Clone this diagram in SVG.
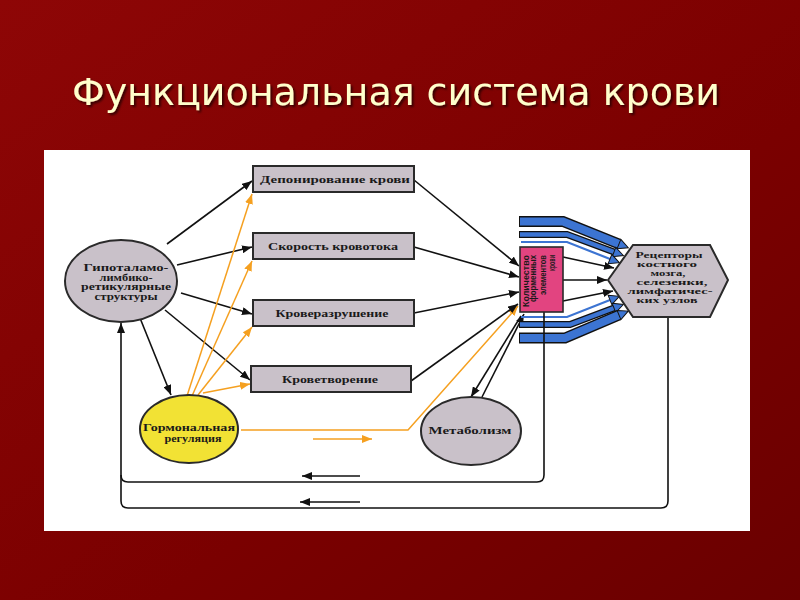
<svg xmlns="http://www.w3.org/2000/svg" width="800" height="600" viewBox="0 0 800 600">
<defs>
<linearGradient id="bg" x1="0" y1="0" x2="1" y2="1">
<stop offset="0" stop-color="#8e0606"/>
<stop offset="0.6" stop-color="#7a0000"/>
<stop offset="1" stop-color="#6a0000"/>
</linearGradient>
<filter id="shadow" x="-5%" y="-20%" width="110%" height="150%">
<feDropShadow dx="2" dy="2" stdDeviation="0.8" flood-color="#000" flood-opacity="0.6"/>
</filter>
<marker id="ah" viewBox="0 0 10 8" refX="10" refY="4" markerWidth="10" markerHeight="8" markerUnits="userSpaceOnUse" orient="auto">
<path d="M0,0 L10,4 L0,8 z" fill="#111"/>
</marker>
<marker id="oh" viewBox="0 0 10 8" refX="10" refY="4" markerWidth="10" markerHeight="8" markerUnits="userSpaceOnUse" orient="auto">
<path d="M0,0 L10,4 L0,8 z" fill="#f5a020"/>
</marker>
<marker id="bh" viewBox="0 0 12 12" refX="1" refY="6" markerWidth="12" markerHeight="12" markerUnits="userSpaceOnUse" orient="auto">
<path d="M1,1 L11,6 L1,11 z" fill="#3c74d2" stroke="#111" stroke-width="1"/>
</marker>
</defs>
<style>
.gray{fill:#c9c1c9;stroke:#2a2a2a;stroke-width:2}
.lbl{font-family:"Liberation Serif","DejaVu Serif",serif;font-weight:bold;font-size:11px;fill:#1a1a1a;text-anchor:middle}
.sm{font-size:9.5px}
.xs{font-size:8.5px}
.md{font-size:10px}
.vt{font-family:"Liberation Sans","DejaVu Sans",sans-serif;font-weight:bold;font-size:9px;fill:#1a1a1a;text-anchor:end}
.blk{fill:none;stroke:#111;stroke-width:1.6}
.org{fill:none;stroke:#f5a020;stroke-width:1.5}
.bout{fill:none;stroke:#111;stroke-linejoin:miter}
.bin{fill:none;stroke:#3c74d2;stroke-linejoin:miter}
</style>
<rect width="800" height="600" fill="url(#bg)"/>
<text id="title" x="396" y="105" fill="#ffffcc" filter="url(#shadow)" font-family="'DejaVu Sans','Noto Sans',sans-serif" font-size="38" text-anchor="middle">Функциональная система крови</text>
<rect id="panel" x="44" y="150" width="706" height="381" fill="#ffffff"/>

<g id="connectors">
<line class="blk" x1="167" y1="244" x2="252" y2="181" marker-end="url(#ah)"/>
<line class="blk" x1="177" y1="265" x2="252" y2="247" marker-end="url(#ah)"/>
<line class="blk" x1="181" y1="293" x2="252" y2="314" marker-end="url(#ah)"/>
<line class="blk" x1="165" y1="310" x2="250" y2="380" marker-end="url(#ah)"/>
<line class="blk" x1="140" y1="318" x2="171" y2="395" marker-end="url(#ah)"/>
<line class="org" x1="187" y1="396" x2="252" y2="194" marker-end="url(#oh)"/>
<line class="org" x1="192" y1="396" x2="252" y2="261" marker-end="url(#oh)"/>
<line class="org" x1="198" y1="395" x2="252" y2="327" marker-end="url(#oh)"/>
<line class="org" x1="203" y1="393" x2="250" y2="384" marker-end="url(#oh)"/>
<polyline class="org" points="241,430 408,430 518,306" marker-end="url(#oh)"/>
<line class="org" x1="313" y1="439" x2="372" y2="439" stroke-width="2" marker-end="url(#oh)"/>
<line class="blk" x1="414" y1="180" x2="519" y2="266" marker-end="url(#ah)"/>
<line class="blk" x1="414" y1="247" x2="519" y2="277" marker-end="url(#ah)"/>
<line class="blk" x1="414" y1="313" x2="519" y2="292" marker-end="url(#ah)"/>
<line class="blk" x1="411" y1="381" x2="518" y2="304" marker-end="url(#ah)"/>
<line class="blk" x1="521" y1="316" x2="471" y2="397" marker-end="url(#ah)"/>
<line class="blk" x1="482" y1="397" x2="524" y2="314" marker-end="url(#ah)"/>
<line class="blk" x1="563" y1="257" x2="614" y2="268" marker-end="url(#ah)"/>
<line class="blk" x1="563" y1="280" x2="607" y2="280" marker-end="url(#ah)"/>
<line class="blk" x1="563" y1="301" x2="613" y2="291" marker-end="url(#ah)"/>
<polyline class="bout" stroke-width="11" points="519,221.5 563,221.5 619,244"/>
<polyline class="bin" stroke-width="8" points="520,221.5 563,221.5 619,244" marker-end="url(#bh)"/>
<polyline class="bout" stroke-width="7" points="519,234.5 567,234.5 614,252"/>
<polyline class="bin" stroke-width="4.5" points="520,234.5 567,234.5 614,252" marker-end="url(#bh)"/>
<polyline class="bin" stroke-width="2.2" points="521,242 567,242 610,259" marker-end="url(#bh)"/>
<polyline class="bin" stroke-width="2.2" points="521,317 567,317 610,300" marker-end="url(#bh)"/>
<polyline class="bout" stroke-width="7" points="519,324.5 570,324.5 614,308"/>
<polyline class="bin" stroke-width="4.5" points="520,324.5 570,324.5 614,308" marker-end="url(#bh)"/>
<polyline class="bout" stroke-width="11" points="519,338 565,338 619,315"/>
<polyline class="bin" stroke-width="8" points="520,338 565,338 619,315" marker-end="url(#bh)"/>
<path class="blk" d="M544,312 V475 Q544,482 537,482 H128 Q121,482 121,475"/>
<path class="blk" d="M668,317 V501 Q668,508 661,508 H128 Q121,508 121,501 V323" marker-end="url(#ah)"/>
<line class="blk" x1="360" y1="476" x2="302" y2="476" marker-end="url(#ah)"/>
<line class="blk" x1="360" y1="502" x2="300" y2="502" marker-end="url(#ah)"/>
</g>

<g id="hypothalamus">
<ellipse class="gray" cx="121" cy="281" rx="56" ry="41"/>
<text class="lbl sm" x="126" y="271" textLength="85" lengthAdjust="spacingAndGlyphs">Гипоталамо-</text>
<text class="lbl sm" x="126" y="280.5" textLength="53" lengthAdjust="spacingAndGlyphs">лимбико-</text>
<text class="lbl sm" x="126" y="290" textLength="90" lengthAdjust="spacingAndGlyphs">ретикулярные</text>
<text class="lbl sm" x="126" y="299.5" textLength="63" lengthAdjust="spacingAndGlyphs">структуры</text>
</g>
<g id="deposition">
<rect class="gray" x="253" y="166" width="161" height="26"/>
<text class="lbl" x="335" y="183" textLength="150" lengthAdjust="spacingAndGlyphs">Депонирование крови</text>
</g>
<g id="bloodflow">
<rect class="gray" x="253" y="233" width="161" height="26"/>
<text class="lbl" x="333" y="250" textLength="130" lengthAdjust="spacingAndGlyphs">Скорость кровотока</text>
</g>
<g id="destruction">
<rect class="gray" x="253" y="300" width="161" height="26"/>
<text class="lbl" x="332" y="317" textLength="113" lengthAdjust="spacingAndGlyphs">Кроверазрушение</text>
</g>
<g id="hematopoiesis">
<rect class="gray" x="251" y="366" width="160" height="26"/>
<text class="lbl" x="330" y="383" textLength="96" lengthAdjust="spacingAndGlyphs">Кроветворение</text>
</g>
<g id="hormonal">
<ellipse cx="189" cy="429" rx="49" ry="34" fill="#f2e234" stroke="#2a2a2a" stroke-width="2"/>
<text class="lbl md" x="189" y="431" textLength="92" lengthAdjust="spacingAndGlyphs">Гормональная</text>
<text class="lbl md" x="193" y="442" textLength="57" lengthAdjust="spacingAndGlyphs">регуляция</text>
</g>
<g id="metabolism">
<ellipse class="gray" cx="471" cy="431" rx="50" ry="34"/>
<text class="lbl" x="470" y="434" textLength="83" lengthAdjust="spacingAndGlyphs">Метаболизм</text>
</g>
<g id="count">
<rect x="520" y="247" width="43" height="65" fill="#e24480" stroke="#2a2a2a" stroke-width="1.6"/>
<text class="vt" transform="translate(528.5,255) rotate(-90)" textLength="52" lengthAdjust="spacingAndGlyphs">Количество</text>
<text class="vt" transform="translate(536,255) rotate(-90)" textLength="47" lengthAdjust="spacingAndGlyphs">форменных</text>
<text class="vt" transform="translate(545.5,255) rotate(-90)" textLength="40" lengthAdjust="spacingAndGlyphs">элементов</text>
<text class="vt" transform="translate(554.5,255) rotate(-90)" textLength="16" lengthAdjust="spacingAndGlyphs">крови</text>
</g>
<g id="receptors">
<polygon class="gray" points="608,280 633,245 710,245 728,280 710,317 633,317"/>
<text class="lbl xs" x="669" y="258" textLength="67" lengthAdjust="spacingAndGlyphs">Рецепторы</text>
<text class="lbl xs" x="667" y="267" textLength="60" lengthAdjust="spacingAndGlyphs">костного</text>
<text class="lbl xs" x="668" y="276" textLength="35" lengthAdjust="spacingAndGlyphs">мозга,</text>
<text class="lbl xs" x="672" y="285" textLength="71" lengthAdjust="spacingAndGlyphs">селезенки,</text>
<text class="lbl xs" x="670" y="294" textLength="85" lengthAdjust="spacingAndGlyphs">лимфатичес-</text>
<text class="lbl xs" x="667" y="303" textLength="61" lengthAdjust="spacingAndGlyphs">ких  узлов</text>
</g>
</svg>
